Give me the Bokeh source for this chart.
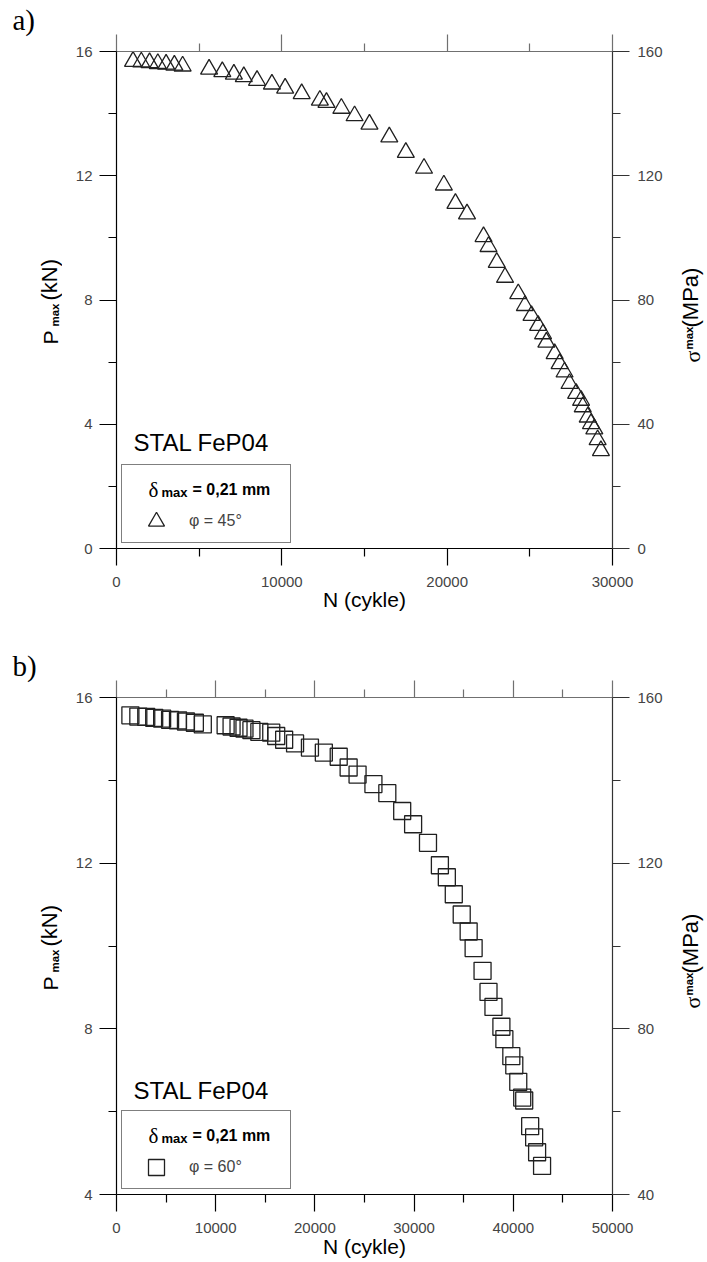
import math
from bokeh.plotting import figure
from bokeh.models import (Range1d, LinearAxis, FixedTicker, Label, Legend, LegendItem,
                          NumeralTickFormatter)
from bokeh.layouts import column, row
from bokeh.embed import file_html
from bokeh.resources import INLINE

# ---------------- data ----------------
# panel a) phi = 45 deg
n_a = [1000, 1500, 2000, 2500, 3000, 3500, 4000,
       5600, 6400, 7100, 7700, 8500, 9400, 10200, 11200, 12300, 12700,
       13600, 14400, 15300, 16500, 17500, 18600, 19800, 20500, 21200,
       22200, 22500, 23000, 23500, 24300, 24700, 25100, 25500, 25800,
       26000, 26500, 26800, 27100, 27400, 27800, 28100, 28200, 28500,
       28700, 28900, 29100, 29300]
p_a = [15.68, 15.66, 15.64, 15.61, 15.59, 15.56, 15.53,
       15.43, 15.35, 15.27, 15.19, 15.07, 14.95, 14.82, 14.64, 14.43, 14.36,
       14.17, 13.93, 13.66, 13.25, 12.75, 12.24, 11.70, 11.11, 10.77,
       10.04, 9.72, 9.21, 8.73, 8.20, 7.82, 7.50, 7.18, 6.91,
       6.64, 6.27, 5.95, 5.68, 5.31, 4.99, 4.77, 4.56, 4.23,
       4.02, 3.85, 3.50, 3.15]

# panel b) phi = 60 deg
n_b = [1400, 2200, 3000, 3800, 4600, 5400, 6200, 7000, 7900, 8700,
       11000, 11600, 12300, 12900, 13600, 14400, 15600, 16100, 16900, 18000,
       19500, 20900, 22400, 23400, 24300, 25900, 27300, 28800, 29900, 31400,
       32600, 33300, 34000, 34800, 35500, 36000, 36900, 37500, 38000, 38800,
       39100, 39800, 40100, 40500, 40900, 41100, 41700, 42100, 42400, 42900]
p_b = [15.57, 15.54, 15.53, 15.51, 15.49, 15.46, 15.45, 15.42, 15.39, 15.35,
       15.33, 15.30, 15.27, 15.25, 15.21, 15.17, 15.15, 15.07, 14.98, 14.89,
       14.79, 14.67, 14.57, 14.31, 14.14, 13.91, 13.69, 13.26, 12.94, 12.49,
       11.95, 11.66, 11.25, 10.76, 10.35, 9.95, 9.40, 8.89, 8.53, 8.05,
       7.75, 7.34, 7.12, 6.72, 6.34, 6.27, 5.65, 5.38, 5.02, 4.69]

x_ticks_a = [0, 10000, 20000, 30000]
x_minor_a = [5000, 15000, 25000]
x_ticks_b = [0, 10000, 20000, 30000, 40000, 50000]
x_minor_b = [5000, 15000, 25000, 35000, 45000]
y_ticks_a = [0, 4, 8, 12, 16]
y_minor_a = [2, 6, 10, 14]
y_ticks_b = [4, 8, 12, 16]
y_minor_b = [6, 10, 14]
s_ticks_a = [0, 40, 80, 120, 160]
s_minor_a = [20, 60, 100, 140]
s_ticks_b = [40, 80, 120, 160]
s_minor_b = [60, 100, 140]

SANS = "Liberation Sans"
SERIF = "Liberation Serif"
# offset between the requested anchor and the drawn baseline (fraction of font size)
K = {SANS: 0.3465, SERIF: 0.3375}

LW, MW, RW = 62, 613, 30          # left strip, main figure, right strip widths
FL_PAGE = 116                      # frame left on page
FR_PAGE = 612                      # frame right on page
A90 = math.pi / 2


def no_align(fig):
    try:
        fig.frame_align = False
    except AttributeError:
        pass


def style_axis(ax, color, standoff=7):
    ax.axis_line_color = color
    ax.axis_line_width = 1.2
    ax.major_tick_line_color = color
    ax.minor_tick_line_color = color
    ax.major_tick_line_width = 1.2
    ax.minor_tick_line_width = 1.2
    ax.major_tick_out = 17
    ax.major_tick_in = 0
    ax.minor_tick_out = 8
    ax.minor_tick_in = 0
    ax.major_label_text_font = SANS
    ax.major_label_text_font_size = "15px"
    ax.major_label_text_color = "#444444"
    ax.major_label_standoff = standoff


def strip(width, height, items):
    s = figure(width=width, height=height, x_range=Range1d(0, width),
               y_range=Range1d(height, 0), x_axis_type=None, y_axis_type=None,
               toolbar_location=None, output_backend="svg", min_border=0,
               outline_line_color=None, background_fill_color="white",
               border_fill_color="white")
    no_align(s)
    for (x, y, text, size, font, style, angle) in items:
        d = K[font] * size
        if angle == 0:
            y -= d
        else:
            x -= d
        s.add_layout(Label(x=x, y=y, text=text, text_font=font, text_font_size=f"{size}px",
                           text_font_style=style, text_color="black", angle=angle,
                           text_align="left", text_baseline="alphabetic",
                           text_line_height=1.0))
    return s


def make_panel(n, pv, marker, xmax, ymin, xt, xm, yt, ym, st, sm,
               height, top, bottom, page_top, tag, phi_text, box_bottom, stal_base,
               xlab_standoff):
    p = figure(width=MW, height=height, x_range=Range1d(0, xmax), y_range=Range1d(ymin, 16),
               x_axis_type=None, y_axis_type=None, toolbar_location=None,
               output_backend="svg", min_border_left=FL_PAGE - LW,
               min_border_right=LW + MW - FR_PAGE, min_border_top=top,
               min_border_bottom=bottom, outline_line_color=None,
               background_fill_color="white", border_fill_color="white")
    no_align(p)
    p.extra_y_ranges = {"sigma": Range1d(ymin * 10, 160)}

    ab = LinearAxis(ticker=FixedTicker(ticks=xt, minor_ticks=xm),
                    formatter=NumeralTickFormatter(format="0"))
    style_axis(ab, "black", standoff=11)
    ab.axis_label = "N (cykle)"
    ab.axis_label_text_font = SANS
    ab.axis_label_text_font_size = "21px"
    ab.axis_label_text_font_style = "normal"
    ab.axis_label_text_color = "black"
    ab.axis_label_standoff = xlab_standoff
    p.add_layout(ab, "below")

    at = LinearAxis(ticker=FixedTicker(ticks=xt, minor_ticks=xm))
    style_axis(at, "#707070", standoff=0)
    at.major_label_overrides = {t: "" for t in xt}
    at.major_label_text_color = None
    p.add_layout(at, "above")

    al = LinearAxis(ticker=FixedTicker(ticks=yt, minor_ticks=ym))
    style_axis(al, "black", standoff=7)
    p.add_layout(al, "left")

    ar = LinearAxis(y_range_name="sigma", ticker=FixedTicker(ticks=st, minor_ticks=sm))
    style_axis(ar, "#333333", standoff=8)
    p.add_layout(ar, "right")

    r = p.scatter(n, pv, marker=marker, size=17, fill_color=None,
                  line_color="#202020", line_width=1.3)

    frame_top_page = page_top + top
    frame_bot_page = page_top + height - bottom
    fc = (frame_top_page + frame_bot_page) / 2

    leg = Legend(items=[LegendItem(label=phi_text, renderers=[r])],
                 location=(121 - FL_PAGE, frame_bot_page - box_bottom), margin=0, padding=1,
                 spacing=0, glyph_width=66, glyph_height=40, label_standoff=0,
                 label_width=100, label_height=20, label_text_font=SANS,
                 label_text_font_size="16px", title="\u00a0", title_text_font_size="16px",
                 title_standoff=17, border_line_color="black", border_line_width=1.2,
                 background_fill_alpha=0.0)
    p.add_layout(leg)

    def txt(px, py, text, size, font=SANS, style="normal"):
        py -= K[font] * size
        p.add_layout(Label(x=px - FL_PAGE, y=frame_bot_page - py, x_units="screen",
                           y_units="screen", text=text, text_font=font,
                           text_font_size=f"{size}px", text_font_style=style,
                           text_color="black", text_align="left",
                           text_baseline="alphabetic", text_line_height=1.0,
                           level="overlay"))

    txt(133, stal_base, "STAL FeP04", 24)
    lb = box_bottom - 48.5
    txt(148, lb + 1.5, "\u03b4", 21, font=SERIF)
    txt(161, lb + 2, "max", 13, style="bold")
    txt(192, lb, "= 0,21 mm", 16, style="bold")

    # side strips with the panel tag and the rotated axis titles
    left = strip(LW, height, [
        (12, frame_top_page - 21.7 - page_top, tag, 29, SERIF, "normal", 0.0),
        (57, fc + 44.5 - page_top, "P", 21, SANS, "normal", A90),
        (58.5, fc + 26.5 - page_top, "max", 11.5, SANS, "bold", A90),
        (56.5, fc + 0.5 - page_top, "(kN)", 22, SANS, "normal", A90),
    ])
    xr = LW + MW
    right = strip(RW, height, [
        (699 - xr, fc + 62.5 - page_top, "\u03c3", 22, SERIF, "normal", A90),
        (692 - xr, fc + 49.5 - page_top, "max", 11.5, SANS, "bold", A90),
        (698 - xr, fc + 27.5 - page_top, "(MPa)", 22, SANS, "normal", A90),
    ])
    return row(left, p, right, spacing=0)


ra = make_panel(n_a, p_a, "triangle", 30000, 0, x_ticks_a, x_minor_a, y_ticks_a, y_minor_a,
                s_ticks_a, s_minor_a, height=640, top=51, bottom=92, page_top=0,
                tag="a)", phi_text="\u03c6 = 45\u00b0", box_bottom=543.3, stal_base=450,
                xlab_standoff=-2)
rb = make_panel(n_b, p_b, "square", 50000, 4, x_ticks_b, x_minor_b, y_ticks_b, y_minor_b,
                s_ticks_b, s_minor_b, height=620, top=57, bottom=66, page_top=640,
                tag="b)", phi_text="\u03c6 = 60\u00b0", box_bottom=1189.3, stal_base=1098,
                xlab_standoff=-1)

layout = column(ra, rb, spacing=0)
open("out.html", "w").write(file_html(layout, INLINE))
